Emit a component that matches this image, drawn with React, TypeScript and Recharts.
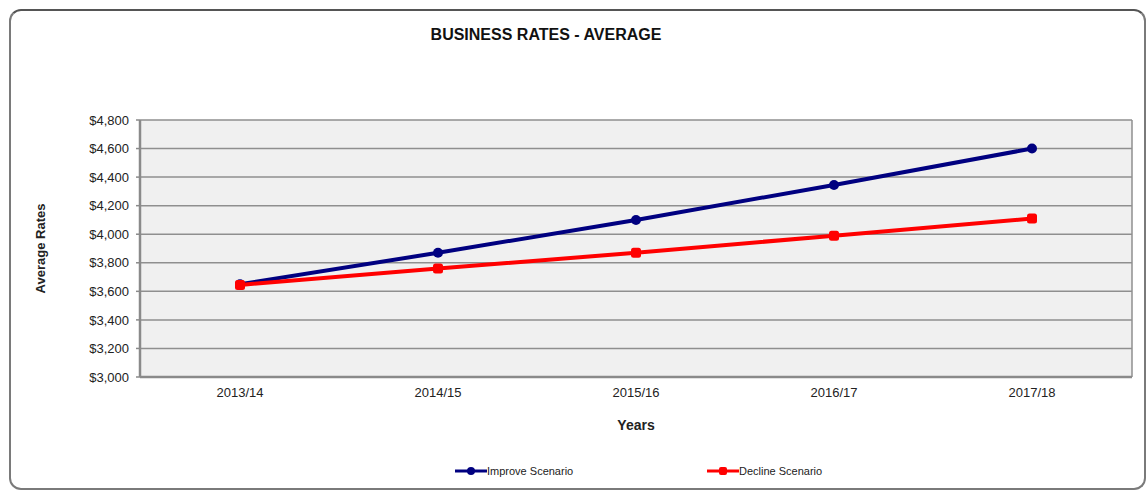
import React from 'react';
import { LineChart, Line, XAxis, YAxis, CartesianGrid, Legend } from 'recharts';

const years = ['2013/14', '2014/15', '2015/16', '2016/17', '2017/18'];
const improveScenario = [3650, 3870, 4100, 4345, 4600];
const declineScenario = [3645, 3760, 3870, 3990, 4110];
const yTicks = [3000, 3200, 3400, 3600, 3800, 4000, 4200, 4400, 4600, 4800];

const seriesInfo = [
  { key: 'improve', name: 'Improve Scenario', color: '#000080', shape: 'circle' },
  { key: 'decline', name: 'Decline Scenario', color: '#ff0000', shape: 'square' },
];

const data = years.map((y, i) => ({
  year: y,
  improve: improveScenario[i],
  decline: declineScenario[i],
}));

const FONT = '"Liberation Sans", Arial, sans-serif';

const fmt = (v: number) => '$' + v.toLocaleString('en-US');

const circleDot = (color: string) => (p: any) => (
  <circle key={`c-${p.index}`} cx={p.cx} cy={p.cy} r={5} fill={color} stroke={color} strokeWidth={0} />
);
const squareDot = (color: string) => (p: any) => (
  <rect key={`s-${p.index}`} x={p.cx - 5} y={p.cy - 5} width={10} height={10} rx={2.5} fill={color} />
);

const LegendContent = () => {
  const lefts = [455, 707];
  return (
    <div style={{ position: 'relative', height: 20, width: '100%', fontFamily: FONT }}>
      {seriesInfo.map((s, i) => (
        <div key={s.key} style={{ position: 'absolute', left: lefts[i], top: 3, display: 'flex', alignItems: 'center', height: 14 }}>
          <svg width={32} height={12} style={{ display: 'block' }}>
            <line x1={0} y1={6} x2={32} y2={6} stroke={s.color} strokeWidth={3} />
            {s.shape === 'circle' ? (
              <circle cx={16} cy={6} r={4} fill={s.color} />
            ) : (
              <rect x={12} y={2} width={8} height={8} rx={2} fill={s.color} />
            )}
          </svg>
          <span style={{ fontSize: 11, color: '#222' }}>{s.name}</span>
        </div>
      ))}
    </div>
  );
};

export default function App() {
  return (
    <div style={{ position: 'fixed', left: 0, top: 0, width: 1146, height: 493, background: '#fff', fontFamily: FONT }}>
      <div
        style={{
          position: 'absolute',
          left: 9,
          top: 9,
          width: 1137,
          height: 481,
          boxSizing: 'border-box',
          border: '2px solid #7a7a7a',
          borderTopColor: '#555',
          borderRadius: 12,
          background: '#fff',
        }}
      />
      <div
        style={{
          position: 'absolute',
          left: 0,
          top: 26,
          width: 1092,
          textAlign: 'center',
          fontSize: 16,
          fontWeight: 'bold',
          color: '#111',
        }}
      >
        BUSINESS RATES - AVERAGE
      </div>
      <div style={{ position: 'absolute', left: 0, top: 0 }}>
        <LineChart
          width={1146}
          height={493}
          data={data}
          margin={{ top: 120, right: 14, left: 0, bottom: 12 }}
          style={{ fontFamily: FONT }}
        >
          <CartesianGrid
            fill="#f0f0f0"
            stroke="#8f8f8f"
            strokeWidth={1.5}
            vertical
            horizontal
            verticalCoordinatesGenerator={({ offset }: any) => [offset.left + offset.width]}
          />
          <XAxis
            dataKey="year"
            padding={{ left: 100, right: 100 }}
            height={84}
            tickLine={false}
            tickSize={0}
            tickMargin={11}
            axisLine={{ stroke: '#8a8a8a', strokeWidth: 2.5 }}
            tick={{ fontSize: 13, fill: '#222' }}
            label={{ value: 'Years', position: 'insideTop', offset: 43, style: { fontSize: 14, fontWeight: 'bold', fill: '#222' } }}
          />
          <YAxis
            domain={[3000, 4800]}
            ticks={yTicks}
            width={140}
            tickSize={4}
            tickMargin={7}
            tickFormatter={fmt}
            interval={0}
            axisLine={{ stroke: '#8a8a8a', strokeWidth: 2.5 }}
            tickLine={{ stroke: '#8a8a8a', strokeWidth: 1.5 }}
            tick={{ fontSize: 13, fill: '#222' }}
            label={{
              value: 'Average Rates',
              angle: -90,
              position: 'insideLeft',
              offset: 40,
              textAnchor: 'middle',
              style: { fontSize: 13, fontWeight: 'bold', fill: '#222', textAnchor: 'middle' },
            }}
          />
          <Legend verticalAlign="bottom" height={20} wrapperStyle={{ height: 20 }} content={<LegendContent />} />
          <Line
            type="linear"
            dataKey="improve"
            name="Improve Scenario"
            stroke="#000080"
            strokeWidth={4}
            dot={circleDot('#000080')}
            isAnimationActive={false}
          />
          <Line
            type="linear"
            dataKey="decline"
            name="Decline Scenario"
            stroke="#ff0000"
            strokeWidth={4}
            dot={squareDot('#ff0000')}
            isAnimationActive={false}
          />
        </LineChart>
      </div>
    </div>
  );
}
